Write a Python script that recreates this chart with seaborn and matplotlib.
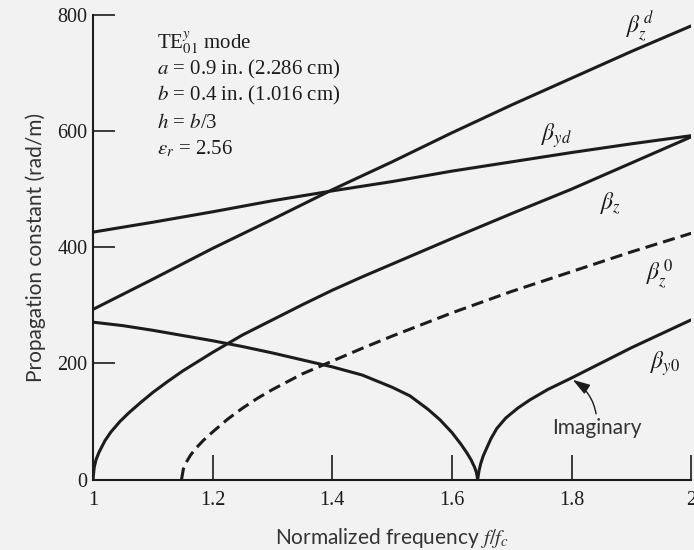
import matplotlib
matplotlib.use("Agg")
import matplotlib.pyplot as plt
import numpy as np
import pandas as pd
import seaborn as sns

# values (x = f/fc, y = rad/m)
x_zd = [1.0, 1.1, 1.2, 1.3, 1.4, 1.5, 1.6, 1.7, 1.8, 1.9, 2.0]
y_zd = [293, 345, 398, 448, 499, 547, 597, 645, 691, 737, 781]

x_yd = [1.0, 1.1, 1.2, 1.3, 1.4, 1.5, 1.6, 1.7, 1.8, 1.9, 2.0]
y_yd = [426, 443, 461, 480, 497, 513, 531, 547, 563, 578, 592]

x_z = [1.0, 1.002, 1.005, 1.01, 1.02, 1.03, 1.045, 1.06, 1.08, 1.1, 1.125, 1.15,
       1.175, 1.2, 1.25, 1.3, 1.35, 1.4, 1.45, 1.5, 1.6, 1.7, 1.8, 1.9, 2.0]
y_z = [0, 21, 34, 47, 67, 82, 100, 115, 133, 150, 169, 187,
       203, 219, 249, 275, 301, 326, 349, 371, 415, 458, 500, 545, 590]

x_z0 = [1.148, 1.151, 1.156, 1.163, 1.172, 1.185, 1.2, 1.225, 1.25, 1.275, 1.3,
        1.35, 1.4, 1.45, 1.5, 1.6, 1.7, 1.8, 1.9, 2.0]
y_z0 = [0, 18, 30, 42, 54, 68, 82, 104, 123, 140, 155,
        182, 204, 226, 247, 287, 324, 358, 392, 424]

# beta_y0: real part (falling) and imaginary part (rising)
x_y0r = [1.0, 1.05, 1.1, 1.15, 1.2, 1.25, 1.3, 1.35, 1.4, 1.45, 1.5, 1.53, 1.56,
         1.58, 1.6, 1.615, 1.625, 1.632, 1.638, 1.641, 1.643]
y_y0r = [271, 265, 257, 248, 239, 229, 218, 206, 194, 180, 159, 144, 121,
         103, 81, 61, 46, 34, 21, 12, 0]

x_y0i = [1.643, 1.645, 1.648, 1.652, 1.658, 1.665, 1.675, 1.69, 1.71, 1.73, 1.76,
         1.8, 1.85, 1.9, 1.95, 2.0]
y_y0i = [0, 14, 27, 40, 54, 70, 88, 106, 123, 137, 155,
         175, 201, 227, 251, 275]

xticks = [1, 1.2, 1.4, 1.6, 1.8, 2]
xtick_labels = ["1", "1.2", "1.4", "1.6", "1.8", "2"]
yticks = [0, 200, 400, 600, 800]

bg = "#f2f2f2"
ink = "#1c1c1c"

sns.set_style("ticks")
plt.rcParams["font.family"] = ["Lato", "DejaVu Sans"]
plt.rcParams["mathtext.fontset"] = "stix"

fig = plt.figure(figsize=(6.94, 5.5), dpi=100, facecolor=bg)
ax = fig.add_axes([0.134, 0.128, 0.862, 0.845], facecolor=bg)

curves = [(x_zd, y_zd, "-"), (x_yd, y_yd, "-"), (x_z, y_z, "-"),
          (x_z0, y_z0, (0, (4, 2))), (x_y0r, y_y0r, "-"), (x_y0i, y_y0i, "-")]
for xs, ys, ls in curves:
    df = pd.DataFrame({"f": xs, "beta": ys})
    sns.lineplot(data=df, x="f", y="beta", ax=ax, color=ink, lw=2.2,
                 linestyle=ls, estimator=None, sort=False)

ax.set_xlim(1, 2)
ax.set_ylim(0, 800)
ax.set_xticks(xticks)
ax.set_xticklabels(xtick_labels)
ax.set_yticks(yticks)
for lab in ax.get_xticklabels() + ax.get_yticklabels():
    lab.set_fontfamily("Liberation Serif")
    lab.set_fontsize(14.5)
    lab.set_color(ink)
ax.tick_params(axis="y", direction="in", length=16, width=1.2, pad=4, colors=ink)
ax.tick_params(axis="x", direction="in", length=18, width=1.2, pad=8, colors=ink)

for side in ["top", "right"]:
    ax.spines[side].set_visible(False)
for side in ["left", "bottom"]:
    ax.spines[side].set_linewidth(1.5)
    ax.spines[side].set_color(ink)

ax.set_xlabel(r"Normalized frequency $f/f_c$", fontsize=15, color="#333333", labelpad=12)
ax.set_ylabel("Propagation constant (rad/m)", fontsize=15, color="#333333", labelpad=8)

# parameter block
info = [r"TE$_{01}^{y}$ mode", r"$a$ = 0.9 in. (2.286 cm)", r"$b$ = 0.4 in. (1.016 cm)",
        r"$h$ = $b$/3", r"$\varepsilon_r$ = 2.56"]
info_y = [742, 697, 652, 606, 560]
for s, yy in zip(info, info_y):
    ax.text(1.107, yy, s, fontsize=15, fontfamily="Liberation Serif", color=ink,
            va="baseline", ha="left")

# curve labels
labels = [r"$\beta_z^{\,d}$", r"$\beta_{yd}$", r"$\beta_z$", r"$\beta_z^{\,0}$", r"$\beta_{y0}$"]
lab_x = [1.915, 1.775, 1.865, 1.948, 1.957]
lab_y = [779, 593, 476, 352, 200]
for s, xx, yy in zip(labels, lab_x, lab_y):
    ax.text(xx, yy, s, fontsize=17, color=ink, ha="center", va="center")

ax.annotate("Imaginary", xy=(1.80, 173), xytext=(1.842, 88), fontsize=15,
            color="#333333", ha="center", va="center",
            arrowprops=dict(arrowstyle="-|>,head_length=0.7,head_width=0.22",
                            connectionstyle="arc3,rad=0.3", color=ink, lw=1.0,
                            shrinkA=1, shrinkB=1))

fig.savefig("out.png", dpi=100, facecolor=bg)
